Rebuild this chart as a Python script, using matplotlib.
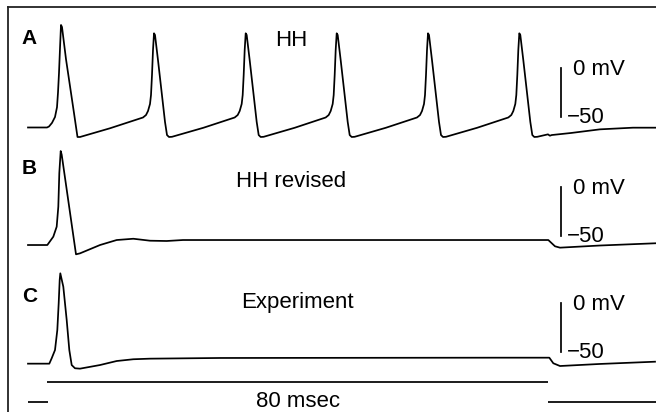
import matplotlib
matplotlib.use('Agg')
import matplotlib.pyplot as plt
from matplotlib.lines import Line2D

# ---------------- data (time in ms, membrane potential in mV) ----------------
# Panel A: original Hodgkin-Huxley model, repetitive firing
a_t = [-3.2, -0.16, 0.16, 0.64, 1.12, 1.44, 1.60, 1.76, 1.92, 2.08, 2.24, 2.88, 3.52, 4.16, 4.48, 4.72, 5.12, 9.92,
       15.20, 15.68, 16.00, 16.32, 16.48, 16.64, 16.80, 16.96, 17.12, 17.60, 18.24, 18.72, 19.04, 19.36, 19.84, 24.86,
       29.87, 30.35, 30.67, 30.99, 31.15, 31.31, 31.47, 31.63, 31.79, 32.27, 32.91, 33.39, 33.71, 34.03, 34.51, 39.47,
       44.43, 44.91, 45.23, 45.55, 45.71, 45.87, 46.03, 46.19, 46.35, 46.83, 47.47, 47.95, 48.27, 48.59, 49.07, 54.05,
       59.04, 59.52, 59.84, 60.16, 60.32, 60.48, 60.64, 60.80, 60.96, 61.44, 62.08, 62.56, 62.88, 63.20, 63.68, 68.66,
       73.65, 74.13, 74.45, 74.77, 74.93, 75.09, 75.25, 75.41, 75.57, 76.05, 76.69, 77.17, 77.49, 77.81, 78.29,
       80.00, 80.30, 80.60, 83.70, 88.30, 93.60, 97.30]
a_v = [-60.7, -60.7, -59.7, -56.0, -50.0, -40.0, -25.0, -5.0, 20.0, 43.9, 41.8, 9.0, -18.5, -46.0, -60.0, -70.4, -70.4, -61.5,
       -50.5, -48.0, -43.9, -36.7, -27.6, -7.1, 18.4, 35.4, 33.7, 8.0, -28.0, -55.0, -68.4, -70.4, -70.2, -61.0,
       -50.5, -48.0, -43.9, -36.7, -27.6, -7.1, 18.4, 35.4, 33.7, 8.0, -28.0, -55.0, -68.4, -70.4, -70.2, -61.0,
       -50.5, -48.0, -43.9, -36.7, -27.6, -7.1, 18.4, 35.4, 33.7, 8.0, -28.0, -55.0, -68.4, -70.4, -70.2, -61.0,
       -50.5, -48.0, -43.9, -36.7, -27.6, -7.1, 18.4, 35.4, 33.7, 8.0, -28.0, -55.0, -68.4, -70.4, -70.2, -61.0,
       -50.5, -48.0, -43.9, -36.7, -27.6, -7.1, 18.4, 35.4, 33.7, 8.0, -28.0, -55.0, -68.4, -70.4, -70.2,
       -67.7, -69.1, -68.4, -66.3, -62.6, -60.9, -60.9]

# Panel B: revised HH model, single spike
b_t = [-3.2, -0.11, 0.85, 1.39, 1.65, 1.81, 2.03, 2.19, 4.48, 5.12, 8.32, 10.99, 13.65, 16.32, 18.99, 21.60, 26.99,
       50.00, 80.05, 81.12, 81.92, 88.32, 97.28]
b_v = [-59.2, -59.2, -50.7, -40.5, -20.1, 14.3, 36.7, 33.0, -68.7, -67.7, -59.2, -54.1, -52.8, -54.8, -55.1, -54.1, -54.1,
       -54.1, -54.1, -60.5, -61.9, -59.7, -57.4]

# Panel C: experiment
c_t = [-3.2, 0.21, 0.59, 1.12, 1.49, 1.71, 1.87, 1.97, 2.45, 2.99, 3.41, 3.79, 4.32, 5.12, 8.32, 10.99, 13.65, 16.32,
       27.52, 40.30, 56.30, 72.30, 80.21, 80.85, 81.92, 88.30, 97.12]
c_v = [-61.9, -61.9, -56.4, -48.0, -27.6, -0.3, 23.5, 30.3, 16.6, -17.3, -48.0, -63.3, -66.6, -67.0, -63.3, -59.2, -57.4, -56.8,
       -56.1, -56.0, -55.9, -55.8, -55.8, -61.5, -64.3, -62.2, -59.9]

panel_letters = ['A', 'B', 'C']
panel_titles = ['HH', 'HH revised', 'Experiment']
scale_top_label = '0 mV'
scale_bottom_label = '\u221250'
scale_bar_mv = [0, -50]

# Current step
stim_start, stim_end = -3.2, 97.28
stim_on, stim_off = 0.0, 80.0
stim_label = '80 msec'

# ---------------- layout ----------------
W, H, DPI = 656, 412, 100
plt.rcParams['font.family'] = ['Liberation Sans', 'DejaVu Sans']
fig = plt.figure(figsize=(W / DPI, H / DPI), dpi=DPI)

PX_PER_MS = 6.25
X0_PX = 48.0
LEFT_PX, RIGHT_PX = 8.0, 656.0
T_LEFT = (LEFT_PX - X0_PX) / PX_PER_MS
T_RIGHT = (RIGHT_PX - X0_PX) / PX_PER_MS
PX_PER_MV = 0.98
V_LO, V_HI = -80, 60
LW = 1.25


def panel_axes(zero_px):
    bottom_px = zero_px - V_LO * PX_PER_MV
    height_px = (V_HI - V_LO) * PX_PER_MV
    ax = fig.add_axes([LEFT_PX / W, 1 - bottom_px / H, (RIGHT_PX - LEFT_PX) / W, height_px / H])
    ax.set_xlim(T_LEFT, T_RIGHT)
    ax.set_ylim(V_LO, V_HI)
    ax.axis('off')
    ax.patch.set_alpha(0)
    return ax


def ftext(x_px, y_px, s, **kw):
    fig.text(x_px / W, 1 - y_px / H, s, **kw)


zeros_px = [68, 187, 303]
letter_pos = [(29.5, 43.5), (29.5, 174.5), (29.5, 302.5)]
title_pos = [(291.5, 45.5), (291, 186.7), (297, 308)]
traces = [(a_t, a_v), (b_t, b_v), (c_t, c_v)]
BAR_T = (561 - X0_PX) / PX_PER_MS

for i in range(3):
    ax = panel_axes(zeros_px[i])
    t, v = traces[i]
    ax.plot(t, v, color='black', lw=LW, solid_joinstyle='round')
    ax.plot([BAR_T, BAR_T], scale_bar_mv, color='black', lw=LW)
    ax.text((573 - X0_PX) / PX_PER_MS, -7.0, scale_top_label, fontsize=16, ha='left', va='baseline')
    ax.text((567 - X0_PX) / PX_PER_MS, -56.5, scale_bottom_label, fontsize=16, ha='left', va='baseline')
    ftext(*letter_pos[i], panel_letters[i], fontsize=15, fontweight='bold', ha='center', va='baseline')
    ftext(*title_pos[i], panel_titles[i], fontsize=16, ha='center', va='baseline')

# stimulus trace
s_top, s_bot = 382.0, 401.7
sax = fig.add_axes([LEFT_PX / W, 1 - s_bot / H, (RIGHT_PX - LEFT_PX) / W, (s_bot - s_top) / H])
sax.set_xlim(T_LEFT, T_RIGHT)
sax.set_ylim(0, 1)
sax.axis('off')
sax.patch.set_alpha(0)
sax.hlines([0, 1, 0], [stim_start, stim_on - 0.16, stim_off], [stim_on, stim_off, stim_end],
           color='black', lw=LW, clip_on=False)
sax.text((stim_on + stim_off) / 2, -0.25, stim_label, fontsize=16, ha='center', va='baseline', clip_on=False)

# frame (left and top edges)
fig.add_artist(Line2D([LEFT_PX / W, LEFT_PX / W], [1 - 7 / H, 0], transform=fig.transFigure, color='#222222', lw=1.3))
fig.add_artist(Line2D([LEFT_PX / W, 1], [1 - 7 / H, 1 - 7 / H], transform=fig.transFigure, color='#222222', lw=1.3))

fig.savefig('out.png', dpi=DPI)
